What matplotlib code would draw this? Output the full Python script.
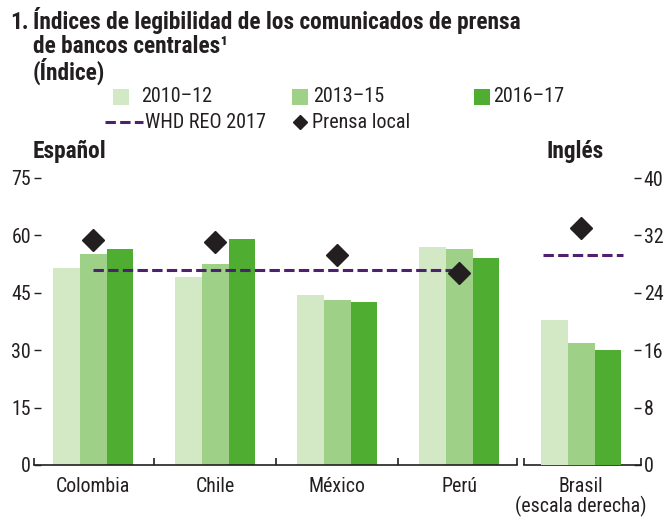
import matplotlib
matplotlib.use("Agg")
import matplotlib.pyplot as plt
from matplotlib.patches import Rectangle
from matplotlib.lines import Line2D
from matplotlib import font_manager

names = {f.name for f in font_manager.fontManager.ttflist}
FAM = "Roboto Condensed" if "Roboto Condensed" in names else "Liberation Sans"
plt.rcParams['font.family'] = [FAM, 'DejaVu Sans']

# ---- data ----
countries = ["Colombia", "Chile", "México", "Perú", "Brasil\n(escala derecha)"]
periods = ["2010–12", "2013–15", "2016–17"]
v_2010_12 = [51.6, 49.2, 44.4, 57.0, 20.2]   # Brasil on right scale
v_2013_15 = [55.1, 52.5, 43.1, 56.4, 17.0]
v_2016_17 = [56.4, 59.1, 42.6, 54.1, 16.0]
prensa_local = [58.8, 58.4, 54.9, 50.3, 33.0]
whd_reo_left = 51.0
whd_reo_brasil = 29.3
left_ticks = [0, 15, 30, 45, 60, 75]
right_ticks = [0, 8, 16, 24, 32, 40]

colors = ["#d3e8c5", "#9fd088", "#4fad32"]
purple = "#4b2170"
dark = "#231f20"
FS = 14.3
LFS = 14.5
TFS = 16.8

W, H = 666, 523
fig = plt.figure(figsize=(W/100, H/100), dpi=100)
ax = fig.add_axes([34/W, (H-465)/H, (641-34)/W, (465-178)/H])
ax2 = ax.twinx()

bw = 0.219
series = [v_2010_12, v_2013_15, v_2016_17]
for i, (vals, c) in enumerate(zip(series, colors)):
    off = (i - 1) * bw
    ax.bar([k + off for k in range(4)], vals[:4], width=bw, color=c, linewidth=0)
    ax2.bar([4 + off], [vals[4]], width=bw, color=c, linewidth=0)

ax.plot([0, 3.02], [whd_reo_left]*2, color=purple, lw=2.2, dashes=(3.4, 1.4), zorder=3)
ax2.plot([4-0.31, 4+0.34], [whd_reo_brasil]*2, color=purple, lw=2.2, dashes=(3.4, 1.4), zorder=3)
ax.plot(range(4), prensa_local[:4], ls='none', marker='D', ms=11.7, color=dark, zorder=4)
ax2.plot([4], [prensa_local[4]], ls='none', marker='D', ms=11.7, color=dark, zorder=4)

ax.set_xlim(-0.485, 4.49)
ax.set_ylim(0, 75)
ax2.set_ylim(0, 40)
ax.set_yticks(left_ticks)
ax2.set_yticks(right_ticks)
for a in (ax, ax2):
    for s in a.spines.values():
        s.set_visible(False)
ax.tick_params(axis='y', direction='in', length=5, width=1, color=dark, labelsize=FS, pad=2, labelcolor=dark)
ax2.tick_params(axis='y', direction='in', length=5, width=1, color=dark, labelsize=FS, pad=2, labelcolor=dark)
ax.set_xticks(range(5))
ax.set_xticklabels(countries)
ax.tick_params(axis='x', length=0, labelsize=FS, pad=9, labelcolor=dark)
for lab in ax.get_xticklabels():
    lab.set_linespacing(0.98)

# bottom axis with break
gap = 0.03
x0, x1 = ax.get_xlim()
tick_h = 1.85
ax.plot([x0, 3.5 - gap], [0, 0], color=dark, lw=1.2, clip_on=False, zorder=5)
ax.plot([3.5 + gap, x1], [0, 0], color=dark, lw=1.2, clip_on=False, zorder=5)
ax.vlines([x0, 0.5, 1.5, 2.5, 3.5 - gap, 3.5 + gap, x1], 0, tick_h, color=dark, lw=1.2, clip_on=False, zorder=5)

# titles
tkw = dict(fontsize=TFS, fontweight='bold', va='baseline', ha='left', color=dark)
fig.text(10/W, 1 - 29/H, "1.", **tkw)
fig.text(33/W, 1 - 29/H, "Índices de legibilidad de los comunicados de prensa", **tkw)
fig.text(33/W, 1 - 53/H, "de bancos centrales¹", **tkw)
fig.text(33/W, 1 - 80/H, "(Índice)", **tkw)
fig.text(33/W, 1 - 158/H, "Español", **tkw)
fig.text(604/W, 1 - 158/H, "Inglés", **{**tkw, 'ha': 'right'})

# legend (manual)
def fx(x): return x / W
def fy(y): return 1 - y / H
patch_x = [113, 292, 474]
text_x = [141, 313, 493]
for px, tx, c, lab in zip(patch_x, text_x, colors, periods):
    fig.patches.append(Rectangle((fx(px), fy(105)), 16/W, 16/H, transform=fig.transFigure, color=c, lw=0))
    fig.text(fx(tx), fy(97), lab, fontsize=LFS, va='center', ha='left', color=dark)
fig.lines.append(Line2D([fx(105), fx(143)], [fy(122), fy(122)], transform=fig.transFigure, color=purple, lw=2.2, dashes=(3.4, 1.4)))
fig.text(fx(145), fy(122), "WHD REO 2017", fontsize=LFS, va='center', ha='left', color=dark)
fig.lines.append(Line2D([fx(300)], [fy(122)], transform=fig.transFigure, marker='D', ms=7.5, color=dark, ls='none'))
fig.text(fx(312), fy(122), "Prensa local", fontsize=LFS, va='center', ha='left', color=dark)

fig.savefig("out.png", dpi=100)
